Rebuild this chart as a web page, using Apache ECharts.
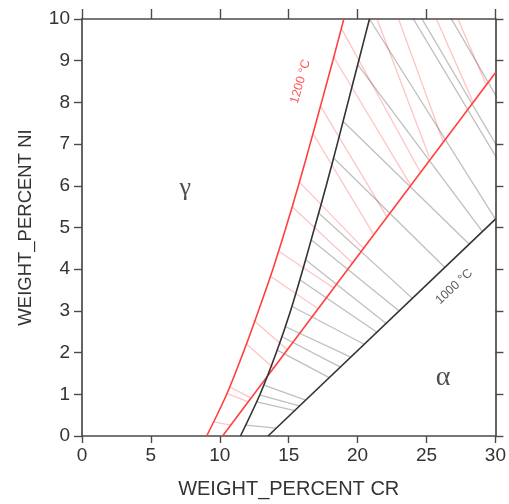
<!DOCTYPE html>
<html>
<head>
<meta charset="utf-8">
<script src="https://cdn.jsdelivr.net/npm/echarts@6/dist/echarts.min.js"></script>
<style>html,body{margin:0;padding:0;background:#fff}#c{width:509px;height:504px}</style>
</head>
<body>
<div id="c"></div>
<script>
// Axis ticks
const xTicks = [0, 5, 10, 15, 20, 25, 30];
const yTicks = [0, 1, 2, 3, 4, 5, 6, 7, 8, 9, 10];

// Phase boundaries [Cr, Ni]
const gamma1200 = [[9.05,0],[10.5,1],[11.7,2],[12.8,3],[13.85,4],[14.8,5],[15.7,6],[16.55,7],[17.38,8],[18.2,9],[19.0,10]];
const alpha1200 = [[10.2,0],[30,8.71]];
const gamma1000 = [[11.5,0],[12.92,1],[14.1,2],[15.13,3],[16.03,4],[16.88,5],[17.72,6],[18.52,7],[19.3,8],[20.08,9],[20.86,10]];
const alpha1000 = [[13.5,0],[30,5.2]];

// Tie lines [Cr_gamma, Ni_gamma, Cr_alpha, Ni_alpha]
const ties1200 = [
  [9.54,0.34,10.8,0.26],
  [10.5,1.02,12.07,0.82],
  [10.7,1.18,12.27,0.91],
  [11.9,2.22,13.89,1.63],
  [12.44,2.78,14.9,2.07],
  [13.73,3.82,17.13,3.05],
  [14.33,4.42,18.27,3.55],
  [15.25,5.5,19.63,4.15],
  [15.74,6.1,20.43,4.5],
  [16.75,7.26,21.17,4.83],
  [17.25,7.94,22.14,5.25],
  [18.24,9.1,23.86,6.01],
  [18.81,9.78,24.57,6.32],
  [20.03,11.2,25.2,6.69],
  [20.73,12.03,26.2,7.07],
  [21.6,13.08,28.36,8.02],
  [22.27,13.85,29.31,8.44]
];
const ties1000 = [
  [11.88,0.26,14.1,0.19],
  [12.69,0.82,15.44,0.61],
  [12.92,0.98,15.79,0.72],
  [13.2,1.22,16.23,0.86],
  [14.17,2.06,17.94,1.40],
  [14.52,2.38,18.74,1.65],
  [14.78,2.62,19.5,1.89],
  [15.29,3.10,20.48,2.2],
  [15.83,3.74,21.4,2.49],
  [16.24,4.22,22.07,2.7],
  [16.65,4.7,23.02,3.0],
  [17.19,5.34,23.98,3.3],
  [18.28,6.66,26.33,4.04],
  [18.96,7.54,28.1,4.6],
  [20.02,8.9,29.06,4.9],
  [20.86,10.0,30.0,5.2],
  [21.8,11.24,31.75,5.75],
  [22.0,11.5,32.07,5.85],
  [22.65,12.37,33.37,6.26]
];

// Text labels [Cr, Ni, text, rotation, colour, size, font]
const textLabels = [
  [15.85, 8.5, '1200 °C', 74, '#ff3030', 12.5, 'Liberation Sans'],
  [27.0, 3.58, '1000 °C', 43, '#333333', 12.5, 'Liberation Sans'],
  [7.5, 5.95, 'γ', 0, '#222222', 26, 'Liberation Serif'],
  [26.2, 1.4, 'α', 0, '#222222', 28, 'Liberation Serif']
];

const series = [];
ties1200.forEach(t => series.push({type:'line', data:[[t[0],t[1]],[t[2],t[3]]], symbol:'none', silent:true, clip:true, z:2,
  lineStyle:{color:'rgba(255,70,70,0.32)', width:1.3}}));
ties1000.forEach(t => series.push({type:'line', data:[[t[0],t[1]],[t[2],t[3]]], symbol:'none', silent:true, clip:true, z:2,
  lineStyle:{color:'rgba(60,60,60,0.33)', width:1.3}}));
[[gamma1200,'#ff4040'],[alpha1200,'#ff4040'],[gamma1000,'#333333'],[alpha1000,'#333333']].forEach(b => series.push({
  type:'line', data:b[0], symbol:'none', silent:true, clip:true, smooth:0.3, z:3,
  lineStyle:{color:b[1], width:1.6}}));
textLabels.forEach(l => series.push({type:'scatter', data:[[l[0],l[1]]], symbolSize:0, silent:true, z:4,
  label:{show:true, position:'inside', formatter:l[2], rotate:l[3], color:l[4], fontSize:l[5], fontFamily:l[6]}}));

const axisCommon = {type:'value', splitLine:{show:false}, axisLine:{show:true, onZero:false, lineStyle:{color:'#4a4a4a', width:1.7}}};
const chart = echarts.init(document.getElementById('c'));
chart.setOption({
  animation:false,
  backgroundColor:'#fff',
  grid:{left:82, right:10, top:19, bottom:68, containLabel:false},
  xAxis:[
    Object.assign({}, axisCommon, {position:'bottom', min:xTicks[0], max:xTicks[xTicks.length-1], interval:5,
      axisTick:{show:true, inside:false, length:7, lineStyle:{color:'#4a4a4a', width:1.4}},
      axisLabel:{fontSize:19, color:'#333', margin:10, fontFamily:'Liberation Sans'},
      name:'WEIGHT_PERCENT CR', nameLocation:'middle', nameGap:43,
      nameTextStyle:{fontSize:20, color:'#333', fontFamily:'Liberation Sans'}}),
    Object.assign({}, axisCommon, {position:'top', min:xTicks[0], max:xTicks[xTicks.length-1], interval:5,
      axisTick:{show:true, inside:false, length:10, lineStyle:{color:'#4a4a4a', width:1.4}},
      axisLabel:{show:false}})
  ],
  yAxis:[
    Object.assign({}, axisCommon, {position:'left', min:yTicks[0], max:yTicks[yTicks.length-1], interval:1,
      axisTick:{show:true, inside:false, length:8, lineStyle:{color:'#4a4a4a', width:1.4}},
      axisLabel:{fontSize:19, color:'#333', margin:12, fontFamily:'Liberation Sans'},
      name:'WEIGHT_PERCENT NI', nameLocation:'middle', nameGap:47, nameRotate:90,
      nameTextStyle:{fontSize:18.5, color:'#333', fontFamily:'Liberation Sans'}}),
    Object.assign({}, axisCommon, {position:'right', min:yTicks[0], max:yTicks[yTicks.length-1], interval:1,
      axisTick:{show:true, inside:false, length:8, lineStyle:{color:'#4a4a4a', width:1.4}},
      axisLabel:{show:false}})
  ],
  series: series
});
</script>
</body>
</html>
